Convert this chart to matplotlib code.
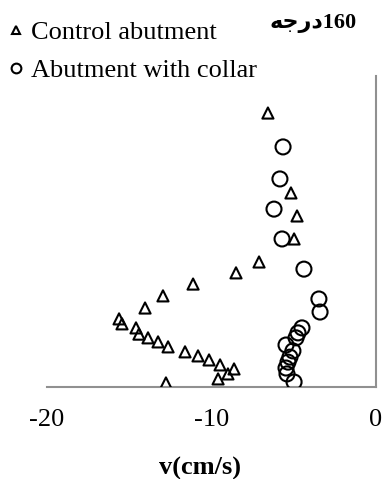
import matplotlib
matplotlib.use('Agg')
import matplotlib.pyplot as plt
from matplotlib.lines import Line2D

plt.rcParams['font.family'] = ['Liberation Serif', 'DejaVu Sans']

# 控制桥台 (三角形)
control_v = [-6.57, -5.17, -4.80, -4.98, -7.11, -8.51, -11.12, -12.95, -14.04,
             -15.62, -15.44, -14.59, -14.41, -13.86, -13.25, -12.64, -11.61,
             -10.82, -10.15, -9.48, -8.63, -9.00, -9.60, -12.77]
control_z = [0.881, 0.624, 0.550, 0.476, 0.402, 0.367, 0.331, 0.293, 0.254,
             0.219, 0.203, 0.190, 0.170, 0.158, 0.145, 0.129, 0.113,
             0.100, 0.087, 0.071, 0.058, 0.042, 0.026, 0.013]

# 带环桥台 (圆圈)
collar_v = [-5.65, -5.84, -6.20, -5.71, -4.38, -3.47, -3.40, -4.50, -4.74,
            -4.86, -5.47, -5.05, -5.23, -5.35, -5.47, -5.41, -4.98]
collar_z = [0.772, 0.669, 0.572, 0.476, 0.379, 0.283, 0.241, 0.190, 0.174,
            0.158, 0.135, 0.116, 0.096, 0.080, 0.061, 0.042, 0.016]

x_ticks = [-20, -10, 0]
labels = ['Control abutment', 'Abutment with collar']
# 160درجه, 阿拉伯字母按显示顺序写成连写形式
title = '\uFEEA\uFE9F\uFEAD\uFEA9' + '160'

fig = plt.figure(figsize=(3.85, 4.79), dpi=100)
ax = fig.add_axes([0.1221, 0.1921, 0.8545, 0.6492])

ax.scatter(control_v, control_z, marker='^', s=8.0 ** 2, facecolors='none',
           edgecolors='black', linewidths=1.5, zorder=3)
ax.scatter(collar_v, collar_z, marker='o', s=10.8 ** 2, facecolors='none',
           edgecolors='black', linewidths=1.5, zorder=3)

ax.set_xlim(-20, 0)
ax.set_ylim(0, 1)
ax.set_xticks(x_ticks)
ax.set_xticklabels([str(t) for t in x_ticks])
ax.set_yticks([])
ax.tick_params(axis='x', length=0, pad=16, labelsize=19)

for side in ['left', 'top']:
    ax.spines[side].set_visible(False)
for side in ['bottom', 'right']:
    ax.spines[side].set_color('#909090')
    ax.spines[side].set_linewidth(1.5)

ax.set_xlabel('v(cm/s)', fontsize=19, fontweight='bold')
ax.xaxis.set_label_coords(0.465, -0.225)

handles = [
    Line2D([], [], marker='^', linestyle='none', markersize=6,
           markerfacecolor='none', markeredgecolor='black', markeredgewidth=1.5),
    Line2D([], [], marker='o', linestyle='none', markersize=7,
           markerfacecolor='none', markeredgecolor='black', markeredgewidth=1.5),
]
fig.legend(handles, labels, loc='upper left', bbox_to_anchor=(0.008, 0.968),
           frameon=False, fontsize=19, handlelength=0.6, handletextpad=0.25,
           labelspacing=0.55, borderaxespad=0, borderpad=0.2)

fig.text(0.927, 0.952, title, fontsize=16, fontweight='bold', ha='right',
         va='center', family=['Liberation Serif', 'DejaVu Sans'])

fig.savefig('out.png', dpi=100)
